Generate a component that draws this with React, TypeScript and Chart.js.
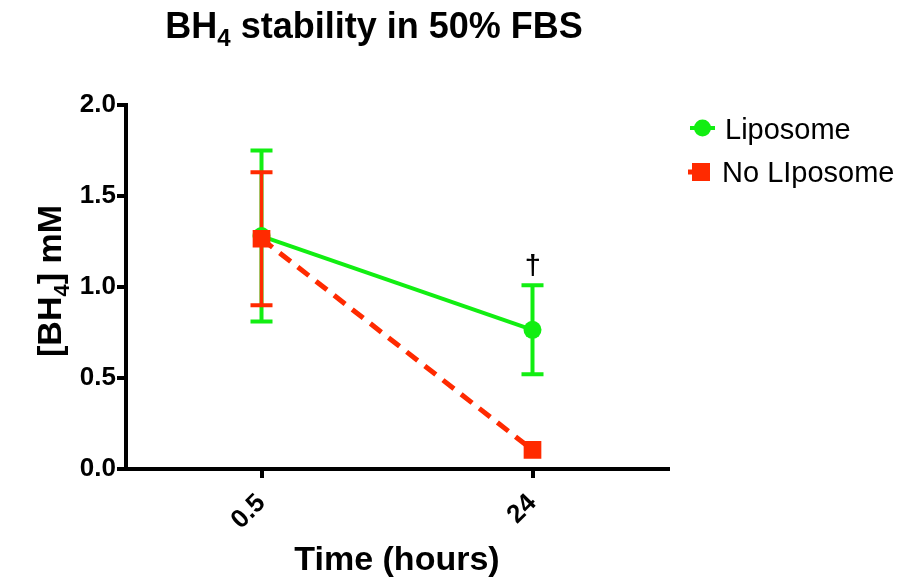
import React, { useEffect, useRef } from "react";
import { Chart, registerables } from "chart.js";

Chart.register(...registerables);

// ---- data ----
const categories = ["0.5", "24"];
const liposomeMean = [1.28, 0.765];
const liposomeSD = [0.47, 0.245];
const noLiposomeMean = [1.265, 0.105];
const noLiposomeSD = [0.365, 0];
const liposomeMarks = ["", "†"];
const yTicks = [0, 0.5, 1.0, 1.5, 2.0];
const seriesNames = ["Liposome", "No LIposome"];

// ---- styles ----
const GREEN = "#12EE12";
const RED = "#FF2A00";
const FONT = "'Liberation Sans', Arial, Helvetica, sans-serif";

type Part = { text: string; size: number; dy: number; weight: string };

function drawParts(ctx: CanvasRenderingContext2D, parts: Part[], x: number, y: number, align: "left" | "center") {
  let total = 0;
  for (const p of parts) {
    ctx.font = `${p.weight} ${p.size}px ${FONT}`;
    total += ctx.measureText(p.text).width;
  }
  let cx = align === "center" ? x - total / 2 : x;
  ctx.textAlign = "left";
  ctx.textBaseline = "alphabetic";
  for (const p of parts) {
    ctx.font = `${p.weight} ${p.size}px ${FONT}`;
    ctx.fillText(p.text, cx, y + p.dy);
    cx += ctx.measureText(p.text).width;
  }
}

const errorBarPlugin = {
  id: "errorBars",
  beforeDatasetsDraw(chart: any) {
    const ctx = chart.ctx as CanvasRenderingContext2D;
    const xs = chart.scales.x;
    const ys = chart.scales.y;
    const sets = [
      { mean: liposomeMean, sd: liposomeSD, color: GREEN, w: 4 },
      { mean: noLiposomeMean, sd: noLiposomeSD, color: RED, w: 3.5 },
    ];
    ctx.save();
    for (const s of sets) {
      ctx.strokeStyle = s.color;
      ctx.lineCap = "butt";
      s.mean.forEach((m, i) => {
        if (!s.sd[i]) return;
        const px = xs.getPixelForValue(i);
        const top = ys.getPixelForValue(m + s.sd[i]);
        const bot = ys.getPixelForValue(m - s.sd[i]);
        ctx.lineWidth = s.w;
        ctx.beginPath();
        ctx.moveTo(px, top);
        ctx.lineTo(px, bot);
        ctx.stroke();
        ctx.lineWidth = 4;
        ctx.beginPath();
        ctx.moveTo(px - 11, top);
        ctx.lineTo(px + 11, top);
        ctx.moveTo(px - 11, bot);
        ctx.lineTo(px + 11, bot);
        ctx.stroke();
      });
    }
    ctx.restore();
  },
};

const decorPlugin = {
  id: "decor",
  afterDraw(chart: any) {
    const ctx = chart.ctx as CanvasRenderingContext2D;
    const area = chart.chartArea;
    const xs = chart.scales.x;
    const ys = chart.scales.y;
    ctx.save();
    ctx.fillStyle = "#000";

    // title
    drawParts(
      ctx,
      [
        { text: "BH", size: 36, dy: 0, weight: "bold" },
        { text: "4", size: 24, dy: 8, weight: "bold" },
        { text: " stability in 50% FBS", size: 36, dy: 0, weight: "bold" },
      ],
      374,
      38,
      "center"
    );

    // x axis title
    drawParts(ctx, [{ text: "Time (hours)", size: 34, dy: 0, weight: "bold" }], (area.left + area.right) / 2, 570, "center");

    // y axis title
    ctx.save();
    ctx.translate(61, (area.top + area.bottom) / 2 - 6);
    ctx.rotate(-Math.PI / 2);
    drawParts(
      ctx,
      [
        { text: "[BH", size: 34, dy: 0, weight: "bold" },
        { text: "4", size: 22, dy: 8, weight: "bold" },
        { text: "] mM", size: 34, dy: 0, weight: "bold" },
      ],
      0,
      0,
      "center"
    );
    ctx.restore();

    // significance marks
    ctx.font = `28px ${FONT}`;
    ctx.textAlign = "center";
    liposomeMarks.forEach((mk, i) => {
      if (!mk) return;
      const px = xs.getPixelForValue(i);
      const top = ys.getPixelForValue(liposomeMean[i] + liposomeSD[i]);
      ctx.fillText(mk, px, top - 11);
      ctx.fillText(mk, px + 0.6, top - 11);
    });

    // legend
    const lx = area.right + 20;
    // Liposome
    ctx.strokeStyle = GREEN;
    ctx.fillStyle = GREEN;
    ctx.lineWidth = 4;
    ctx.beginPath();
    ctx.moveTo(lx + 2, 128);
    ctx.lineTo(lx + 27, 128);
    ctx.stroke();
    ctx.beginPath();
    ctx.arc(lx + 14.5, 128, 8.5, 0, Math.PI * 2);
    ctx.fill();
    // No Liposome
    ctx.strokeStyle = RED;
    ctx.fillStyle = RED;
    ctx.lineWidth = 5;
    ctx.beginPath();
    ctx.moveTo(lx, 172);
    ctx.lineTo(lx + 8, 172);
    ctx.stroke();
    ctx.fillRect(lx + 4, 163, 18, 18);

    ctx.fillStyle = "#000";
    ctx.textAlign = "left";
    ctx.font = `29px ${FONT}`;
    ctx.fillText(seriesNames[0], lx + 37, 139);
    ctx.fillText(seriesNames[1], lx + 34, 182);
    ctx.restore();
  },
};

export default function App() {
  const ref = useRef<HTMLCanvasElement | null>(null);

  useEffect(() => {
    if (!ref.current) return;
    const tickFont = { family: FONT, size: 26, weight: "bold" as const };
    const chart = new Chart(ref.current, {
      type: "line",
      data: {
        labels: categories,
        datasets: [
          {
            label: seriesNames[0],
            data: liposomeMean,
            borderColor: GREEN,
            backgroundColor: GREEN,
            borderWidth: 4,
            pointStyle: "circle",
            pointRadius: 9,
            pointBorderWidth: 0,
            pointBackgroundColor: GREEN,
            order: 1,
            fill: false,
            tension: 0,
          },
          {
            label: seriesNames[1],
            data: noLiposomeMean,
            borderColor: RED,
            backgroundColor: RED,
            borderWidth: 5,
            borderDash: [14, 9],
            pointStyle: "rect",
            pointRadius: 12.5,
            pointBorderWidth: 0,
            pointBackgroundColor: RED,
            order: 0,
            fill: false,
            tension: 0,
          },
        ],
      },
      options: {
        animation: false,
        responsive: false,
        maintainAspectRatio: false,
        layout: { padding: { top: 105, right: 234, left: 0, bottom: 0 } },
        plugins: {
          legend: { display: false },
          title: { display: false },
          tooltip: { enabled: false },
        },
        scales: {
          x: {
            type: "category",
            offset: true,
            grid: {
              display: true,
              drawOnChartArea: false,
              drawTicks: true,
              tickLength: 9,
              lineWidth: 4,
              color: "#000",
              offset: false,
            },
            border: { display: true, color: "#000", width: 4 },
            ticks: {
              color: "#000",
              font: tickFont,
              minRotation: 45,
              maxRotation: 45,
              padding: 10,
            },
            afterFit: (s: any) => {
              s.height = 111;
            },
          },
          y: {
            type: "linear",
            min: 0,
            max: 2,
            grid: {
              display: true,
              drawOnChartArea: false,
              drawTicks: true,
              tickLength: 9,
              lineWidth: 4,
              color: "#000",
            },
            border: { display: true, color: "#000", width: 4 },
            ticks: {
              color: "#000",
              font: tickFont,
              padding: 1,
              callback: (v: any) => Number(v).toFixed(1),
            },
            afterBuildTicks: (s: any) => {
              s.ticks = yTicks.map((v) => ({ value: v }));
            },
            afterFit: (s: any) => {
              s.width = 126;
            },
          },
        },
      },
      plugins: [errorBarPlugin, decorPlugin],
    });
    return () => chart.destroy();
  }, []);

  return (
    <div style={{ position: "absolute", left: 0, top: 0, width: 902, height: 580, background: "#fff" }}>
      <canvas ref={ref} width={902} height={580} />
    </div>
  );
}
